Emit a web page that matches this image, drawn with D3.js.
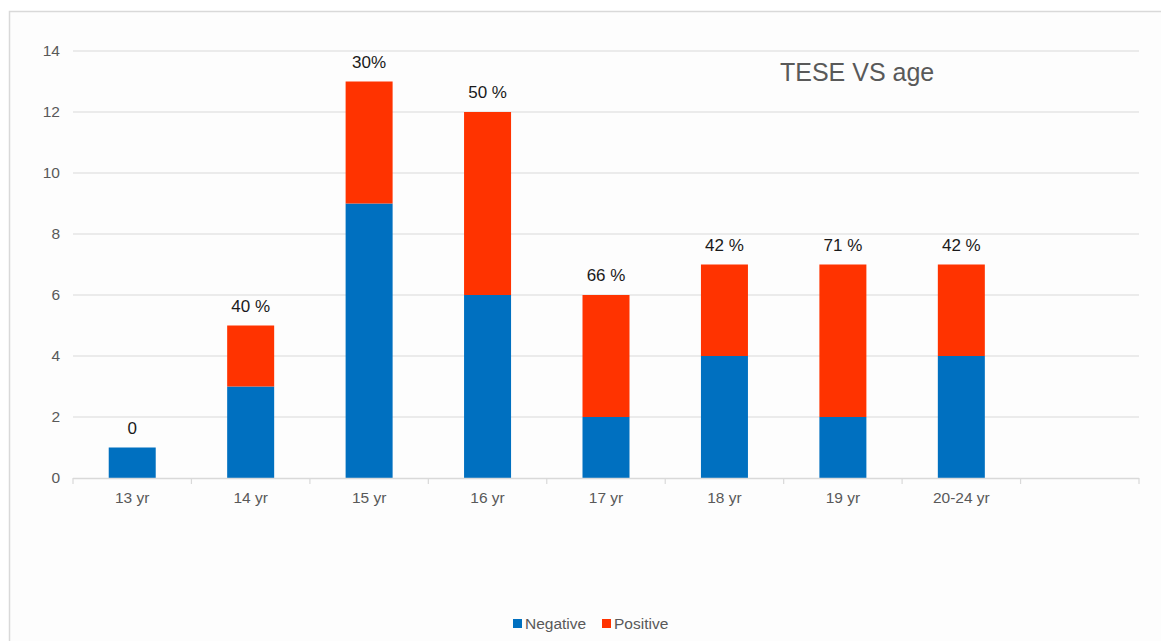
<!DOCTYPE html>
<html>
<head>
<meta charset="utf-8">
<script src="https://cdn.jsdelivr.net/npm/d3@7"></script>
<style>
  html, body { margin: 0; padding: 0; background: #ffffff; }
  svg { display: block; font-family: "Liberation Sans", Arial, sans-serif; }
</style>
</head>
<body>
<div id="chart"></div>
<script>
// chart data
const categories = ["13 yr", "14 yr", "15 yr", "16 yr", "17 yr", "18 yr", "19 yr", "20-24 yr", ""];
const negative = [1, 3, 9, 6, 2, 4, 2, 4, 0];
const positive = [0, 2, 4, 6, 4, 3, 5, 3, 0];
const pctLabels = ["0", "40 %", "30%", "50 %", "66 %", "42 %", "71 %", "42 %", ""];
const yTicks = [0, 2, 4, 6, 8, 10, 12, 14];
const seriesNames = ["Negative", "Positive"];
const seriesColors = ["#0070C0", "#FF3300"];

var width = 1161, height = 641;

var svg = d3.select("#chart")
    .append("svg")
    .attr("width", width)
    .attr("height", height);

// chart frame
svg.append("rect")
    .attr("x", 9.5).attr("y", 11.5)
    .attr("width", width + 20).attr("height", height + 20)
    .attr("fill", "#fdfdfd")
    .attr("stroke", "#d9d9d9")
    .attr("stroke-width", 1.5);

var x = d3.scaleBand()
    .domain(d3.range(categories.length))
    .range([73, 1139])
    .paddingInner(0)
    .paddingOuter(0);

var y = d3.scaleLinear()
    .domain([0, 14])
    .range([478, 51]);

// gridlines
svg.append("g")
    .selectAll("line")
    .data(yTicks.filter(d => d > 0))
    .enter()
    .append("line")
    .attr("x1", 73).attr("x2", 1139)
    .attr("y1", d => y(d)).attr("y2", d => y(d))
    .attr("stroke", "#d9d9d9")
    .attr("stroke-width", 1.2);

// y labels
svg.append("g")
    .selectAll("text")
    .data(yTicks)
    .enter()
    .append("text")
    .attr("x", 60)
    .attr("y", d => y(d))
    .attr("dy", "0.35em")
    .attr("text-anchor", "end")
    .attr("font-size", 15.5)
    .attr("fill", "#595959")
    .text(d => d);

// stacked bars
var rows = categories.map((c, i) => ({ i: i, Negative: negative[i], Positive: positive[i] }));
var stacked = d3.stack().keys(seriesNames)(rows);
var bw = 47;

svg.append("g")
    .selectAll("g")
    .data(stacked)
    .enter()
    .append("g")
    .attr("fill", (d, k) => seriesColors[k])
    .selectAll("rect")
    .data(d => d.filter(p => p[1] > p[0]))
    .enter()
    .append("rect")
    .attr("x", d => x(d.data.i) + x.bandwidth() / 2 - bw / 2)
    .attr("width", bw)
    .attr("y", d => y(d[1]))
    .attr("height", d => y(d[0]) - y(d[1]));

// x axis
var xAxis = svg.append("g");
xAxis.append("line")
    .attr("x1", 73).attr("x2", 1139)
    .attr("y1", 478.5).attr("y2", 478.5)
    .attr("stroke", "#d9d9d9")
    .attr("stroke-width", 1.5);

xAxis.selectAll("line.tick")
    .data(d3.range(categories.length + 1))
    .enter()
    .append("line")
    .attr("class", "tick")
    .attr("x1", d => d < categories.length ? x(d) : x.range()[1])
    .attr("x2", d => d < categories.length ? x(d) : x.range()[1])
    .attr("y1", 478).attr("y2", 484)
    .attr("stroke", "#d9d9d9")
    .attr("stroke-width", 1.2);

xAxis.selectAll("text")
    .data(categories)
    .enter()
    .append("text")
    .attr("x", (d, i) => x(i) + x.bandwidth() / 2)
    .attr("y", 503)
    .attr("text-anchor", "middle")
    .attr("font-size", 15.5)
    .attr("fill", "#595959")
    .text(d => d);

// percentage labels above bars
svg.append("g")
    .selectAll("text")
    .data(pctLabels)
    .enter()
    .append("text")
    .attr("x", (d, i) => x(i) + x.bandwidth() / 2)
    .attr("y", (d, i) => y(negative[i] + positive[i]) - 14)
    .attr("text-anchor", "middle")
    .attr("font-size", 17)
    .attr("fill", "#1a1a1a")
    .text(d => d);

// title
svg.append("text")
    .attr("x", 780)
    .attr("y", 81)
    .attr("font-size", 25)
    .attr("fill", "#595959")
    .text("TESE VS age");

// legend
var legend = svg.append("g");
var legendX = [513, 602];
seriesNames.forEach(function(name, k) {
    legend.append("rect")
        .attr("x", legendX[k]).attr("y", 619)
        .attr("width", 9).attr("height", 9)
        .attr("fill", seriesColors[k]);
    legend.append("text")
        .attr("x", legendX[k] + 12)
        .attr("y", 629)
        .attr("font-size", 15.5)
        .attr("fill", "#595959")
        .text(name);
});
</script>
</body>
</html>
